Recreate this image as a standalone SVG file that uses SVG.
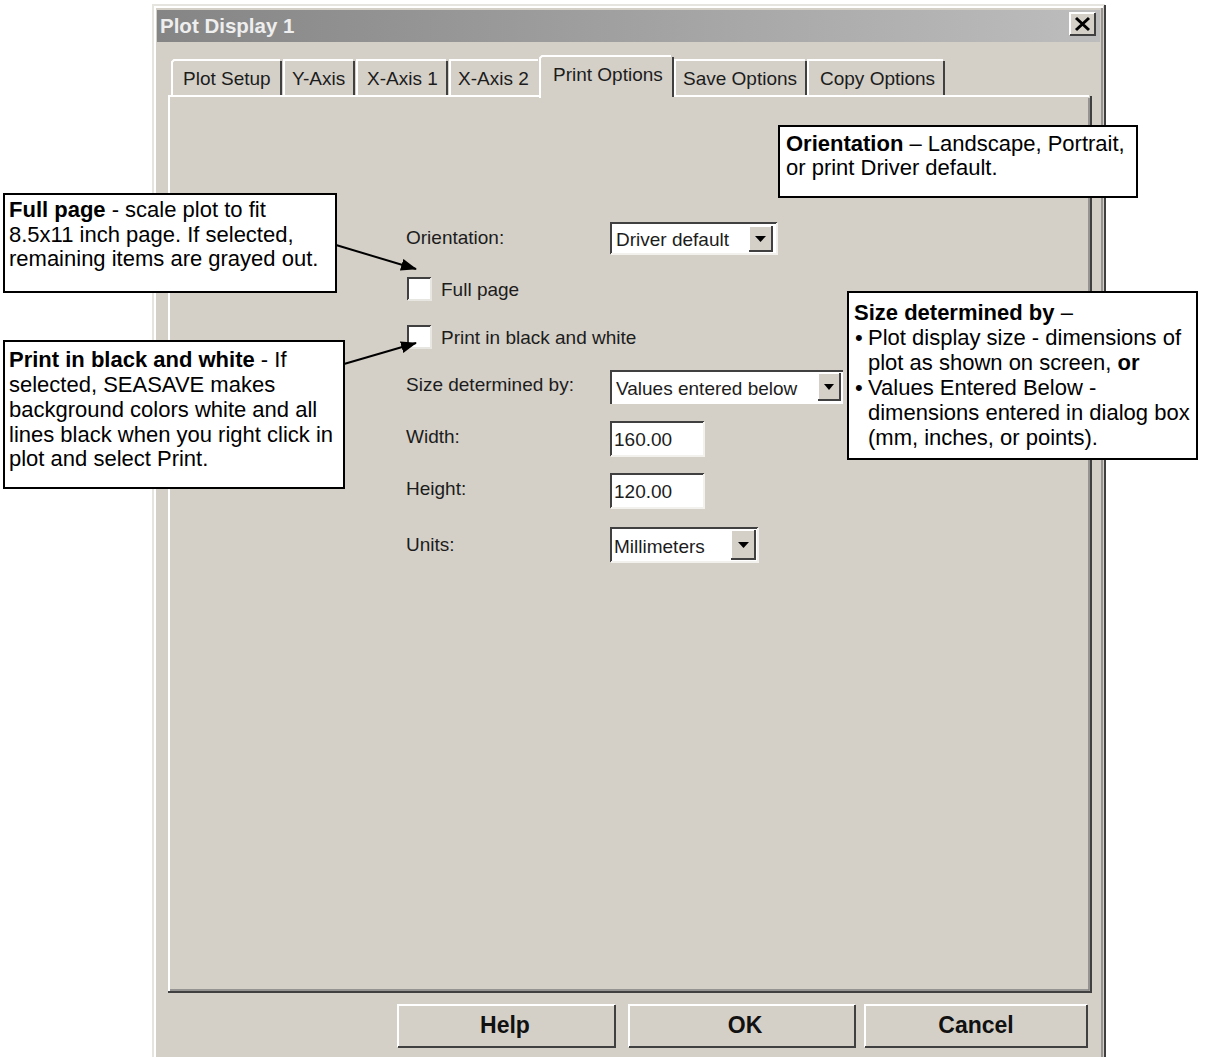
<svg xmlns="http://www.w3.org/2000/svg" width="1211" height="1057" viewBox="0 0 1211 1057">
<defs>
<linearGradient id="tg" x1="0" x2="1" y1="0" y2="0"><stop offset="0" stop-color="#858585"/><stop offset="1" stop-color="#bdbdbd"/></linearGradient>
<marker id="ah" viewBox="0 0 16 12" refX="15" refY="6" markerWidth="16" markerHeight="12" markerUnits="userSpaceOnUse" orient="auto"><path d="M0,0 L16,6 L0,12 z" fill="#000"/></marker>
</defs>
<style>
.ui{font-family:"Liberation Sans",Arial,sans-serif;font-size:19px;fill:#1c1c1c}
.co{font-family:"Liberation Sans",Arial,sans-serif;font-size:22px;fill:#000}
.b{font-weight:bold}
.box{fill:#fff;stroke:#000;stroke-width:2}
.face{fill:#d4d0c8}
.hl{stroke:#fff;stroke-width:2;fill:none}
.sh{stroke:#808080;stroke-width:1.5;fill:none}
.dk{stroke:#404040;stroke-width:2;fill:none}
.lt{stroke:#f2f1ee;stroke-width:2;fill:none}
.well{fill:#fff}
.btn{font-family:"Liberation Sans",Arial,sans-serif;font-size:23px;font-weight:bold;fill:#111;text-anchor:middle}
.tri{fill:#000}
</style>
<rect width="1211" height="1057" fill="#fff"/>

<g id="dialog">
<rect x="152" y="4" width="953" height="1060" class="face"/>
<path d="M153,1057 V5 H1105" stroke="#e6e4de" stroke-width="2" fill="none"/>
<path d="M155,1057 V7 H1103" class="hl"/>
<path d="M1105,5 V1057" class="dk"/>
<path d="M1102,8 V1057" class="sh"/>
<rect x="157" y="10" width="943" height="32" fill="url(#tg)"/>
<text x="160" y="33" font-family="Liberation Sans, Arial, sans-serif" font-size="20.5" font-weight="bold" fill="#eeeeee">Plot Display 1</text>
<g id="close-btn">
<rect x="1070" y="13" width="25" height="22" class="face"/>
<path d="M1070,35 V13 H1095" class="hl"/>
<path d="M1070,35 H1095 V13" class="dk"/>
<path d="M1076,18 L1089,30 M1089,18 L1076,30" stroke="#000" stroke-width="3"/>
</g>
</g>

<g id="tabs">
<g id="tab-plot-setup">
<path d="M172,95 V62 L174,60 H280" class="hl"/>
<path d="M281,61 V95" class="dk"/>
<text class="ui" x="183" y="85">Plot Setup</text>
</g>
<g id="tab-y-axis">
<path d="M284,95 V60 H353" class="hl"/>
<path d="M354,61 V95" class="dk"/>
<text class="ui" x="292" y="85">Y-Axis</text>
</g>
<g id="tab-x-axis-1">
<path d="M357,95 V60 H446" class="hl"/>
<path d="M447,61 V95" class="dk"/>
<text class="ui" x="367" y="85">X-Axis 1</text>
</g>
<g id="tab-x-axis-2">
<path d="M450,95 V60 H538" class="hl"/>
<text class="ui" x="458" y="85">X-Axis 2</text>
</g>
<g id="tab-save-options">
<path d="M675,95 V60 H805" class="hl"/>
<path d="M806,61 V95" class="dk"/>
<text class="ui" x="683" y="85">Save Options</text>
</g>
<g id="tab-copy-options">
<path d="M808,95 V60 H943" class="hl"/>
<path d="M944,61 V95" class="dk"/>
<text class="ui" x="820" y="85">Copy Options</text>
</g>
</g>

<g id="panel">
<path d="M169,991 V96 H540 M672,96 H1089" class="hl"/>
<path d="M168,992 H1091 V96" class="dk"/>
<path d="M170,990 H1089 V98" class="sh"/>
</g>

<g id="tab-print-options">
<rect x="539" y="56" width="134" height="42" class="face"/>
<path d="M540,98 V58 L542,56 H671" class="hl"/>
<path d="M673,57 V97" class="dk"/>
<text class="ui" x="553" y="81">Print Options</text>
</g>

<g id="orientation-row">
<text class="ui" x="406" y="244">Orientation:</text>
<rect x="610" y="222" width="167" height="32" class="well"/>
<path d="M611,254 V223 H777" class="dk"/>
<path d="M611,254 H777 V223" class="lt"/>
<text class="ui" x="616" y="246">Driver default</text>
<rect x="749" y="226" width="23" height="25" class="face"/>
<path d="M749,251 V226 H772" class="hl"/>
<path d="M749,251 H772 V226" class="dk"/>
<path d="M755,236 H766 L760.5,242 z" class="tri"/>
</g>

<g id="full-page-row">
<rect x="407" y="277" width="24" height="23" class="well"/>
<path d="M408,300 V278 H431" class="dk"/>
<path d="M408,300 H431 V278" stroke="#e8e6e0" stroke-width="2" fill="none"/>
<text class="ui" x="441" y="296">Full page</text>
</g>

<g id="bw-row">
<rect x="407" y="325" width="24" height="23" class="well"/>
<path d="M408,348 V326 H431" class="dk"/>
<path d="M408,348 H431 V326" stroke="#e8e6e0" stroke-width="2" fill="none"/>
<text class="ui" x="441" y="344">Print in black and white</text>
</g>

<g id="size-row">
<text class="ui" x="406" y="391">Size determined by:</text>
<rect x="610" y="370" width="233" height="34" class="well"/>
<path d="M611,404 V371 H843" class="dk"/>
<text class="ui" x="616" y="395">Values entered below</text>
<rect x="818" y="373" width="22" height="27" class="face"/>
<path d="M818,400 V373 H840" class="hl"/>
<path d="M818,400 H840 V373" class="dk"/>
<path d="M824,384 H834 L829,390 z" class="tri"/>
</g>

<g id="width-row">
<text class="ui" x="406" y="443">Width:</text>
<rect x="610" y="421" width="94" height="35" class="well"/>
<path d="M611,456 V422 H704" class="dk"/>
<path d="M611,456 H704 V422" class="lt"/>
<text class="ui" x="614" y="446">160.00</text>
</g>

<g id="height-row">
<text class="ui" x="406" y="495">Height:</text>
<rect x="610" y="473" width="94" height="35" class="well"/>
<path d="M611,508 V474 H704" class="dk"/>
<path d="M611,508 H704 V474" class="lt"/>
<text class="ui" x="614" y="498">120.00</text>
</g>

<g id="units-row">
<text class="ui" x="406" y="551">Units:</text>
<rect x="610" y="527" width="148" height="35" class="well"/>
<path d="M611,562 V528 H758" class="dk"/>
<path d="M611,562 H758 V528" class="lt"/>
<text class="ui" x="614" y="553">Millimeters</text>
<rect x="731" y="530" width="24" height="29" class="face"/>
<path d="M731,559 V530 H755" class="hl"/>
<path d="M731,559 H755 V530" class="dk"/>
<path d="M738,542 H749 L743.5,548 z" class="tri"/>
</g>

<g id="btn-help">
<rect x="398" y="1005" width="217" height="42" class="face"/>
<path d="M398,1047 V1005 H615" class="hl"/>
<path d="M398,1047 H615 V1005" class="dk"/>
<text class="btn" x="505" y="1033">Help</text>
</g>
<g id="btn-ok">
<rect x="629" y="1005" width="226" height="42" class="face"/>
<path d="M629,1047 V1005 H855" class="hl"/>
<path d="M629,1047 H855 V1005" class="dk"/>
<text class="btn" x="745" y="1033">OK</text>
</g>
<g id="btn-cancel">
<rect x="865" y="1005" width="222" height="42" class="face"/>
<path d="M865,1047 V1005 H1087" class="hl"/>
<path d="M865,1047 H1087 V1005" class="dk"/>
<text class="btn" x="976" y="1033">Cancel</text>
</g>

<g id="callout-orientation">
<rect x="779" y="126" width="358" height="71" class="box"/>
<text class="co" x="786" y="151"><tspan class="b">Orientation</tspan> – Landscape, Portrait,</text>
<text class="co" x="786" y="175">or print Driver default.</text>
</g>

<g id="callout-full-page">
<rect x="4" y="194" width="332" height="98" class="box"/>
<text class="co" x="9" y="217"><tspan class="b">Full page</tspan> - scale plot to fit</text>
<text class="co" x="9" y="242">8.5x11 inch page. If selected,</text>
<text class="co" x="9" y="266">remaining items are grayed out.</text>
</g>

<g id="callout-bw">
<rect x="4" y="341" width="340" height="147" class="box"/>
<text class="co" x="9" y="367"><tspan class="b">Print in black and white</tspan> - If</text>
<text class="co" x="9" y="392">selected, SEASAVE makes</text>
<text class="co" x="9" y="417">background colors white and all</text>
<text class="co" x="9" y="442">lines black when you right click in</text>
<text class="co" x="9" y="466">plot and select Print.</text>
</g>

<g id="callout-size">
<rect x="848" y="292" width="349" height="167" class="box"/>
<text class="co" x="854" y="320"><tspan class="b">Size determined by</tspan> –</text>
<text class="co" x="855" y="345">•</text>
<text class="co" x="868" y="345">Plot display size - dimensions of</text>
<text class="co" x="868" y="370">plot as shown on screen, <tspan class="b">or</tspan></text>
<text class="co" x="855" y="395">•</text>
<text class="co" x="868" y="395">Values Entered Below -</text>
<text class="co" x="868" y="420">dimensions entered in dialog box</text>
<text class="co" x="868" y="445">(mm, inches, or points).</text>
</g>

<g id="connectors" stroke="#000" stroke-width="2" fill="none">
<line x1="336" y1="245" x2="416" y2="269" marker-end="url(#ah)"/>
<line x1="344" y1="364" x2="416" y2="343" marker-end="url(#ah)"/>
</g>
</svg>
